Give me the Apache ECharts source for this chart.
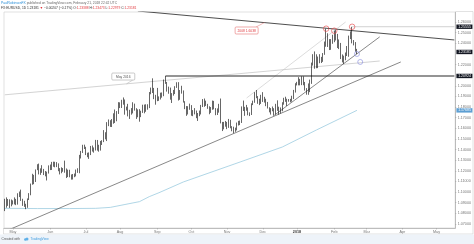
<!DOCTYPE html>
<html><head><meta charset="utf-8">
<script src="https://cdn.jsdelivr.net/npm/echarts@6/dist/echarts.min.js"></script>
<style>html,body{margin:0;padding:0;background:#fff}#c{width:474px;height:244px}</style>
</head><body><div id="c"></div>
<script>
// EURUSD daily, 24 Apr 2017 .. 21 Feb 2018 (index 0 = 24 Apr 2017)
const opens = [
1.0850,1.0855,1.0928,1.0888,1.0873,
1.0895,1.0904,1.0930,1.0886,1.0981,1.0998,1.0924,1.0875,1.0868,1.0862,1.0932,1.0982,1.1072,1.1160,1.1101,1.1208,1.1242,1.1181,1.1183,1.1213,1.1180,1.1163,1.1183,
1.1243,1.1212,1.1282,1.1251,1.1278,1.1256,1.1211,1.1196,1.1204,1.1213,1.1216,1.1149,1.1197,1.1149,1.1132,1.1166,1.1150,1.1195,1.1181,1.1338,1.1374,1.1444,
1.1424,1.1359,1.1348,1.1352,1.1423,1.1400,1.1398,1.1464,1.1414,1.1397,1.1470,1.1475,1.1557,1.1515,1.1634,1.1665,1.1642,1.1648,1.1733,1.1679,1.1752,
1.1837,1.1803,1.1859,1.1866,1.1773,1.1792,1.1757,1.1760,1.1773,1.1822,1.1779,1.1730,1.1768,1.1723,1.1760,1.1816,1.1762,1.1804,1.1799,1.1923,1.1977,1.1969,1.1888,
1.1907,1.1859,1.1887,1.1917,1.1918,1.2023,1.2035,1.1951,1.1966,1.1886,1.1921,1.1943,1.1985,1.1997,1.1894,1.1940,1.1950,1.1845,1.1793,1.1747,1.1782,
1.1814,1.1733,1.1745,1.1761,1.1706,1.1731,1.1736,1.1810,1.1863,1.1822,1.1822,1.1795,1.1763,1.1790,1.1848,1.1784,1.1763,1.1764,1.1813,1.1653,1.1606,1.1638,
1.1646,1.1620,1.1657,1.1607,1.1610,1.1595,1.1590,1.1641,1.1664,1.1664,1.1797,1.1793,1.1770,1.1793,1.1736,1.1737,1.1825,1.1852,1.1932,1.1896,1.1843,1.1846,
1.1903,1.1894,1.1865,1.1827,1.1795,1.1771,1.1768,1.1772,1.1743,1.1825,1.1776,1.1748,1.1781,1.1841,1.1872,1.1874,1.1859,1.1865,1.1860,1.1890,1.1944,
1.2005,1.2011,1.2060,1.2014,1.2068,1.2029,1.1967,1.1937,1.1946,1.2032,1.2200,1.2262,1.2264,1.2177,1.2237,1.2222,1.2262,1.2298,1.2410,1.2396,1.2427,1.2383,1.2413,
1.2414,1.2512,1.2461,1.2369,1.2378,1.2267,1.2250,1.2251,1.2290,1.2354,1.2449,1.2505,1.2407,1.2408,1.2339];
const highs = [
1.0937,1.0950,1.0935,1.0932,1.0930,
1.0922,1.0950,1.0936,1.0989,1.1005,1.1023,1.0937,1.0918,1.0890,1.0940,1.0990,1.1080,1.1172,1.1162,1.1213,1.1262,1.1268,1.1223,1.1253,1.1218,1.1198,1.1192,1.1251,
1.1259,1.1284,1.1286,1.1285,1.1282,1.1270,1.1225,1.1233,1.1226,1.1296,1.1222,1.1211,1.1210,1.1166,1.1170,1.1174,1.1212,1.1224,1.1350,1.1387,1.1445,1.1446,
1.1426,1.1370,1.1373,1.1434,1.1438,1.1420,1.1491,1.1490,1.1445,1.1481,1.1488,1.1583,1.1563,1.1658,1.1683,1.1676,1.1687,1.1741,1.1777,1.1762,1.1846,
1.1844,1.1868,1.1890,1.1871,1.1804,1.1830,1.1774,1.1790,1.1845,1.1832,1.1789,1.1778,1.1780,1.1765,1.1822,1.1823,1.1826,1.1826,1.1941,1.1983,1.2070,1.1980,1.1915,
1.1980,1.1900,1.1935,1.1937,1.2059,1.2092,1.2036,1.1992,1.1983,1.1931,1.1961,1.1996,1.2033,1.2034,1.1960,1.2000,1.1956,1.1855,1.1809,1.1808,1.1832,
1.1818,1.1771,1.1790,1.1767,1.1744,1.1767,1.1820,1.1875,1.1880,1.1860,1.1830,1.1807,1.1800,1.1861,1.1858,1.1790,1.1787,1.1830,1.1880,1.1660,1.1660,1.1669,
1.1660,1.1688,1.1680,1.1620,1.1615,1.1606,1.1654,1.1670,1.1673,1.1806,1.1861,1.1802,1.1820,1.1797,1.1750,1.1835,1.1860,1.1940,1.1960,1.1903,1.1878,1.1915,
1.1940,1.1896,1.1878,1.1848,1.1798,1.1790,1.1805,1.1789,1.1830,1.1863,1.1803,1.1796,1.1845,1.1887,1.1897,1.1878,1.1875,1.1877,1.1906,1.1961,1.2024,
1.2037,1.2081,1.2065,1.2089,1.2088,1.2036,1.1978,1.2022,1.2058,1.2218,1.2297,1.2323,1.2296,1.2275,1.2297,1.2272,1.2308,1.2416,1.2537,1.2494,1.2439,1.2439,1.2480,
1.2518,1.2524,1.2488,1.2436,1.2403,1.2295,1.2283,1.2313,1.2374,1.2472,1.2512,1.2555,1.2430,1.2411,1.2347];
const lows = [
1.0821,1.0853,1.0870,1.0851,1.0866,
1.0883,1.0884,1.0877,1.0882,1.0953,1.0917,1.0870,1.0861,1.0839,1.0852,1.0925,1.0970,1.1069,1.1074,1.1095,1.1206,1.1166,1.1162,1.1181,1.1160,1.1148,1.1109,1.1174,
1.1207,1.1208,1.1238,1.1233,1.1235,1.1196,1.1166,1.1177,1.1191,1.1182,1.1132,1.1141,1.1139,1.1117,1.1118,1.1140,1.1147,1.1181,1.1177,1.1316,1.1368,1.1405,
1.1348,1.1328,1.1312,1.1348,1.1381,1.1371,1.1391,1.1390,1.1380,1.1390,1.1443,1.1470,1.1496,1.1480,1.1620,1.1613,1.1612,1.1643,1.1650,1.1666,1.1735,
1.1790,1.1791,1.1822,1.1728,1.1768,1.1712,1.1688,1.1728,1.1740,1.1766,1.1688,1.1704,1.1662,1.1705,1.1745,1.1741,1.1755,1.1775,1.1790,1.1920,1.1932,1.1874,1.1822,
1.1855,1.1858,1.1871,1.1888,1.1902,1.2018,1.1945,1.1925,1.1869,1.1838,1.1907,1.1922,1.1980,1.1861,1.1868,1.1926,1.1842,1.1780,1.1717,1.1730,1.1774,
1.1718,1.1714,1.1731,1.1695,1.1669,1.1714,1.1730,1.1800,1.1802,1.1810,1.1783,1.1732,1.1745,1.1774,1.1778,1.1723,1.1725,1.1747,1.1646,1.1574,1.1590,1.1615,
1.1592,1.1604,1.1600,1.1572,1.1554,1.1567,1.1580,1.1626,1.1630,1.1650,1.1763,1.1717,1.1765,1.1722,1.1715,1.1725,1.1818,1.1840,1.1883,1.1830,1.1818,1.1829,
1.1848,1.1842,1.1808,1.1786,1.1750,1.1729,1.1760,1.1718,1.1730,1.1764,1.1729,1.1740,1.1760,1.1822,1.1849,1.1810,1.1850,1.1845,1.1851,1.1875,1.1936,
1.2003,1.2004,1.2004,1.2006,1.2005,1.1955,1.1916,1.1915,1.1940,1.2018,1.2190,1.2160,1.2165,1.2166,1.2212,1.2214,1.2225,1.2291,1.2367,1.2365,1.2336,1.2338,1.2395,
1.2410,1.2426,1.2355,1.2345,1.2251,1.2220,1.2206,1.2240,1.2280,1.2273,1.2439,1.2399,1.2380,1.2320,1.2298];
const closes = [
1.0855,1.0928,1.0888,1.0873,1.0895,
1.0904,1.0930,1.0886,1.0981,1.0998,1.0924,1.0875,1.0868,1.0862,1.0932,1.0982,1.1072,1.1160,1.1101,1.1208,1.1242,1.1181,1.1183,1.1213,1.1180,1.1163,1.1183,1.1243,
1.1212,1.1282,1.1251,1.1278,1.1256,1.1211,1.1196,1.1204,1.1213,1.1216,1.1149,1.1197,1.1149,1.1132,1.1166,1.1150,1.1195,1.1181,1.1338,1.1374,1.1444,1.1424,
1.1359,1.1348,1.1352,1.1423,1.1400,1.1398,1.1464,1.1414,1.1397,1.1470,1.1475,1.1557,1.1515,1.1634,1.1665,1.1642,1.1648,1.1733,1.1679,1.1752,1.1837,
1.1803,1.1859,1.1866,1.1773,1.1792,1.1757,1.1760,1.1773,1.1822,1.1779,1.1730,1.1768,1.1723,1.1760,1.1816,1.1762,1.1804,1.1799,1.1923,1.1977,1.1969,1.1888,1.1907,
1.1859,1.1887,1.1917,1.1918,1.2023,1.2035,1.1951,1.1966,1.1886,1.1921,1.1943,1.1985,1.1997,1.1894,1.1940,1.1950,1.1845,1.1793,1.1747,1.1782,1.1814,
1.1733,1.1745,1.1761,1.1706,1.1731,1.1736,1.1810,1.1863,1.1822,1.1822,1.1795,1.1763,1.1790,1.1848,1.1784,1.1763,1.1764,1.1813,1.1653,1.1606,1.1638,1.1646,
1.1620,1.1657,1.1607,1.1610,1.1595,1.1590,1.1641,1.1664,1.1664,1.1797,1.1793,1.1770,1.1793,1.1736,1.1737,1.1825,1.1852,1.1932,1.1896,1.1843,1.1846,1.1903,
1.1894,1.1865,1.1827,1.1795,1.1771,1.1768,1.1772,1.1743,1.1825,1.1776,1.1748,1.1781,1.1841,1.1872,1.1874,1.1859,1.1865,1.1860,1.1890,1.1944,1.2005,
1.2011,1.2060,1.2014,1.2068,1.2029,1.1967,1.1937,1.1946,1.2032,1.2200,1.2262,1.2264,1.2177,1.2237,1.2222,1.2262,1.2298,1.2410,1.2396,1.2427,1.2383,1.2413,1.2414,
1.2512,1.2461,1.2369,1.2378,1.2267,1.2250,1.2251,1.2290,1.2354,1.2449,1.2505,1.2407,1.2408,1.2339,1.2318];

// time axis: first trading day of each month (bar index) and its label
const monthTicks = [[5,'May'],[28,'Jun'],[50,'Jul'],[71,'Aug'],[94,'Sep'],[115,'Oct'],[137,'Nov'],[159,'Dec'],[180,'2018'],[203,'Feb'],[223,'Mar'],[245,'Apr'],[266,'May']];
const totalSlots = 278;
// price axis labels
const yTicks = [1.07,1.08,1.09,1.10,1.11,1.12,1.13,1.14,1.15,1.16,1.17,1.18,1.19,1.20,1.22,1.24,1.25,1.26];
// moving average, read at a few bars
const maPoints = [[0,1.0847],[20,1.0845],[40,1.0845],[56,1.0847],[65,1.0856],[83,1.0910],[89,1.0957],[95,1.0994],[110,1.1095],[145,1.1283],[171,1.1424],[192,1.1584],[217,1.1769]];
// drawings (bar index, price)
const resistanceLine = [[82,1.2703],[277,1.2431]];
const sepHighLine = [[99,1.20924],[277,1.20924]];
const febHighLine = [[214,1.25555],[277,1.25555]];
const may2016Line = [[0,1.1915],[231,1.2233]];
const longSupport = [[0,1.0629],[244,1.2224]];
const decSupport = [[166,1.1722],[231,1.2460]];
const channelLine = [[149,1.1885],[210,1.2600]];
const redCircles = [[198,1.2537],[203,1.2518],[214,1.2555]];
const blueCircles = [[217,1.2299],[219,1.2224]];
const priceTags = [[1.25555,'#131722'],[1.23181,'#131722'],[1.20924,'#131722'],[1.17685,'#5d9fd3']];
const noteMay2016 = {text:'May 2016', at:[73,1.2087], tip:[75,1.2018]};
const note2008 = {text:'2008 1.6038', at:[149,1.2520], tip:[160,1.2595]};

const chart = echarts.init(document.getElementById('c'), null, {renderer:'canvas'});
const tickMap = {}; monthTicks.forEach(([i,l]) => tickMap[i] = l);
const cats = Array.from({length: totalSlots}, (_, i) => String(i));
const candles = closes.map((c, i) => [opens[i], c, lows[i], highs[i]]);
const drawLine = (data, color, width) => ({type:'line', data, symbol:'none', silent:true, z:3,
  lineStyle:{color, width}});
const isTick = (i) => tickMap[i] !== undefined;

chart.setOption({
  animation:false,
  grid:{left:4, right:18, top:12, bottom:16, show:true, borderColor:'#cfcfcf', borderWidth:0.6, backgroundColor:'#fff'},
  xAxis:{type:'category', data:cats, boundaryGap:true,
    axisLine:{show:true, lineStyle:{color:'#9a9a9a', width:0.6}},
    axisTick:{show:true, interval:isTick, length:1.5, alignWithLabel:true, lineStyle:{color:'#9a9a9a', width:0.5}},
    axisLabel:{interval:isTick, fontSize:3.7, color:'#777', margin:1.6, fontFamily:'Arial, Liberation Sans, sans-serif',
      formatter:(v) => { const l = tickMap[+v]; return l === '2018' ? '{b|2018}' : (l || ''); },
      rich:{b:{fontWeight:'bold', color:'#333', fontSize:3.7}}},
    splitLine:{show:false}},
  yAxis:{type:'value', position:'right', min:1.0662, max:1.2694,
    axisLine:{show:true, lineStyle:{color:'#9a9a9a', width:0.6}},
    axisTick:{show:true, customValues:yTicks, length:1.2, lineStyle:{color:'#9a9a9a', width:0.5}},
    axisLabel:{customValues:yTicks, formatter:(v) => v.toFixed(5), fontSize:3.7, color:'#777', margin:2.5, fontFamily:'Arial, Liberation Sans, sans-serif'},
    splitLine:{show:false}},
  series:[
    drawLine(maPoints, '#9ccbe0', 0.8),
    drawLine(may2016Line, '#b5b5b5', 0.6),
    drawLine(channelLine, '#c4c4c4', 0.6),
    drawLine(longSupport, '#555', 0.7),
    drawLine(decSupport, '#555', 0.7),
    drawLine(resistanceLine, '#3a3a3a', 0.9),
    drawLine(febHighLine, '#b0b0b0', 0.6),
    drawLine(sepHighLine, '#2a2a2a', 1.1),
    {type:'candlestick', data:candles, barWidth:1.1, z:4,
      itemStyle:{color:'#ffffff', color0:'#000000', borderColor:'#000000', borderColor0:'#000000', borderWidth:0.6}},
    {type:'scatter', data:redCircles, symbol:'circle', symbolSize:5.5, z:6, silent:true,
      itemStyle:{color:'rgba(0,0,0,0)', borderColor:'#e8474a', borderWidth:0.8}},
    {type:'scatter', data:blueCircles, symbol:'circle', symbolSize:5, z:6, silent:true,
      itemStyle:{color:'rgba(0,0,0,0)', borderColor:'#8a8fe0', borderWidth:0.8}}
  ]
});

const px = (p) => chart.convertToPixel({xAxisIndex:0, yAxisIndex:0}, p);
const g = [];
// header
g.push({type:'text', x:1, y:3, style:{text:'{a|PaulRobinsonFX} published on TradingView.com, February 21, 2018 22:42 UTC',
  font:'3.3px Arial, sans-serif', fill:'#666', verticalAlign:'middle', rich:{a:{fill:'#2a8fd8', font:'3.3px Arial, sans-serif'}}}});
g.push({type:'text', x:1, y:8.5, style:{text:'FX:EURUSD, 1D 1.23181 {r|▼} −0.00207 (−0.17%) O:{r|1.23388} H:{r|1.23473} L:{r|1.22979} C:{r|1.23181}',
  font:'3.3px Arial, sans-serif', fill:'#333', verticalAlign:'middle', rich:{r:{fill:'#e0393e', font:'3.3px Arial, sans-serif'}}}});
// frame lines
g.push({type:'line', shape:{x1:456, y1:11.5, x2:473, y2:11.5}, style:{stroke:'#cfcfcf', lineWidth:0.6}});
g.push({type:'line', shape:{x1:473, y1:11.5, x2:473, y2:234}, style:{stroke:'#cfcfcf', lineWidth:0.6}});
g.push({type:'line', shape:{x1:3.5, y1:234, x2:473, y2:234}, style:{stroke:'#cfcfcf', lineWidth:0.6}});
g.push({type:'line', shape:{x1:3.5, y1:228, x2:3.5, y2:234}, style:{stroke:'#cfcfcf', lineWidth:0.6}});
// footer
g.push({type:'rect', shape:{x:0, y:234.5, width:474, height:10}, style:{fill:'#eef3f9'}});
g.push({type:'text', x:1.5, y:239.3, style:{text:'Created with', font:'3.3px Arial, sans-serif', fill:'#555', verticalAlign:'middle'}});
g.push({type:'circle', shape:{cx:25.3, cy:239.5, r:1.2}, style:{fill:'#5fb0e8'}});
g.push({type:'circle', shape:{cx:27, cy:239, r:1.5}, style:{fill:'#5fb0e8'}});
g.push({type:'text', x:30.5, y:239.3, style:{text:'TradingView', font:'3.3px Arial, sans-serif', fill:'#3b9be0', verticalAlign:'middle'}});
// price tags on the axis
priceTags.forEach(([v, col]) => {
  const y = px([0, v])[1];
  g.push({type:'rect', shape:{x:456.4, y:y-2.2, width:16, height:4.4}, style:{fill:col}, z:10});
  g.push({type:'text', x:458.2, y:y, style:{text:v.toFixed(5), font:'3.5px Arial, sans-serif', fill:'#fff', verticalAlign:'middle'}, z:11});
});
// callout notes
function note(n, border, color, w) {
  const a = px(n.at), t = px(n.tip);
  g.push({type:'line', shape:{x1:a[0]+(t[0]>a[0]?w/2-2:0), y1:a[1]+(t[1]>a[1]?3.5:-3.5), x2:t[0], y2:t[1]}, style:{stroke:border, lineWidth:0.5}, z:9});
  g.push({type:'rect', shape:{x:a[0]-w/2, y:a[1]-3.5, width:w, height:7, r:1}, style:{fill:'#fff', stroke:border, lineWidth:0.6}, z:10});
  g.push({type:'text', x:a[0], y:a[1]+0.2, style:{text:n.text, font:'3.3px Arial, sans-serif', fill:color, align:'center', verticalAlign:'middle'}, z:11});
}
note(noteMay2016, '#a8a8a8', '#555', 23);
note(note2008, '#e57373', '#e0393e', 23);
chart.setOption({graphic:g});
</script></body></html>
